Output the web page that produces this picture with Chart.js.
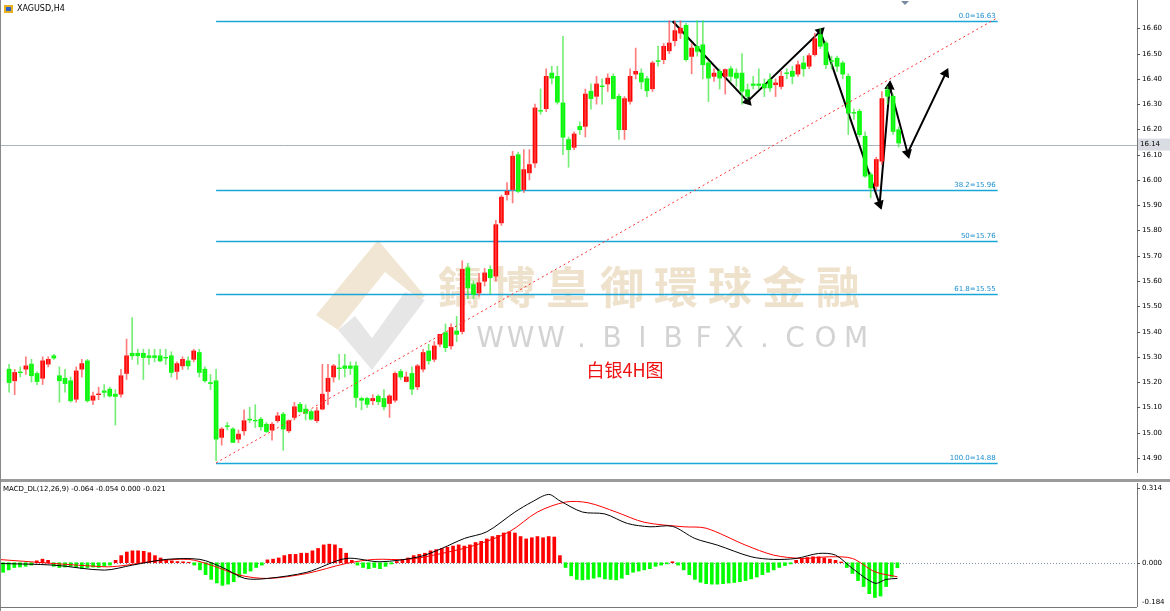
<!DOCTYPE html>
<html><head><meta charset="utf-8">
<script src="https://cdn.jsdelivr.net/npm/chart.js@4.4.1/dist/chart.umd.min.js"></script>
<style>
html,body{margin:0;padding:0;background:#fff;overflow:hidden}
#wrap{position:relative;width:1170px;height:611px;background:#fff}
#c1{position:absolute;left:0;top:0}
#c2{position:absolute;left:0;top:483px}
#sep{position:absolute;left:0;top:479px;width:1170px;height:3px;background:#9a9a9a}
#lb{position:absolute;left:0;top:0;width:1px;height:611px;background:#888}
#bt{position:absolute;left:0;top:607px;width:1137px;height:1px;background:#777}
</style></head><body>
<div id="wrap"><canvas id="c1" width="1170" height="479"></canvas><div id="sep"></div><canvas id="c2" width="1170" height="124"></canvas><div id="lb"></div><div id="bt"></div></div>
<script>
const symbolLabel = "XAGUSD,H4";
const opens  = [15.198,15.251,15.205,15.24,15.251,15.271,15.234,15.215,15.271,15.304,15.225,15.215,15.205,15.132,15.251,15.284,15.128,15.15,15.165,15.172,15.152,15.152,15.234,15.314,15.314,15.314,15.304,15.304,15.304,15.298,15.304,15.242,15.264,15.284,15.290,15.317,15.251,15.198,15.205,14.981,15.027,15.014,14.974,15.007,15.053,15.049,15.053,15.033,15.010,15.047,15.073,15.007,15.060,15.112,15.093,15.083,15.047,15.093,15.163,15.220,15.256,15.264,15.264,15.264,15.135,15.135,15.126,15.144,15.135,15.115,15.128,15.242,15.202,15.234,15.181,15.251,15.323,15.290,15.350,15.396,15.343,15.402,15.40,15.652,15.586,15.553,15.599,15.646,15.619,15.830,15.942,15.962,16.100,15.962,16.028,16.067,16.275,16.282,16.423,16.410,16.305,16.160,16.129,16.212,16.212,16.351,16.331,16.372,16.380,16.410,16.331,16.199,16.311,16.419,16.423,16.401,16.361,16.472,16.476,16.511,16.551,16.581,16.612,16.489,16.529,16.535,16.463,16.410,16.430,16.410,16.440,16.423,16.423,16.357,16.380,16.380,16.380,16.397,16.377,16.370,16.424,16.430,16.419,16.463,16.450,16.496,16.575,16.542,16.472,16.482,16.463,16.410,16.267,16.272,16.173,16.021,15.975,16.074,16.357,16.331,16.199];
const highs  = [15.26,15.27,15.25,15.26,15.30,15.29,15.24,15.30,15.30,15.31,15.26,15.25,15.22,15.26,15.29,15.29,15.16,15.18,15.19,15.18,15.17,15.25,15.37,15.455,15.33,15.33,15.33,15.33,15.33,15.33,15.32,15.28,15.30,15.30,15.33,15.33,15.26,15.23,15.25,15.02,15.04,15.02,15.01,15.09,15.10,15.11,15.06,15.04,15.04,15.08,15.08,15.05,15.12,15.12,15.11,15.09,15.10,15.27,15.27,15.27,15.31,15.31,15.28,15.28,15.14,15.14,15.15,15.15,15.17,15.15,15.24,15.25,15.24,15.26,15.27,15.33,15.35,15.36,15.39,15.43,15.43,15.46,15.68,15.67,15.60,15.63,15.65,15.66,15.84,15.94,15.99,16.113,16.11,16.12,16.12,16.30,16.36,16.44,16.45,16.45,16.568,16.17,16.19,16.23,16.36,16.38,16.41,16.40,16.42,16.42,16.34,16.33,16.44,16.522,16.44,16.41,16.47,16.53,16.54,16.63,16.63,16.63,16.62,16.54,16.63,16.63,16.47,16.44,16.44,16.44,16.45,16.44,16.50,16.38,16.41,16.44,16.40,16.42,16.40,16.43,16.44,16.45,16.47,16.49,16.50,16.58,16.60,16.55,16.49,16.49,16.47,16.42,16.28,16.28,16.19,16.03,16.09,16.35,16.37,16.34,16.21];
const lows   = [15.18,15.16,15.15,15.22,15.23,15.20,15.19,15.19,15.26,15.29,15.12,15.16,15.12,15.12,15.22,15.12,15.11,15.13,15.14,15.14,15.03,15.14,15.21,15.29,15.27,15.21,15.27,15.28,15.28,15.27,15.22,15.21,15.25,15.25,15.28,15.22,15.20,15.17,14.889,14.95,15.01,14.96,14.96,14.99,15.04,15.02,15.01,15.00,14.97,15.04,14.93,15.00,15.05,15.08,15.05,15.05,15.04,15.09,15.11,15.20,15.21,15.22,15.23,15.10,15.09,15.10,15.11,15.11,15.09,15.06,15.12,15.21,15.20,15.15,15.17,15.24,15.27,15.28,15.34,15.32,15.33,15.36,15.39,15.53,15.53,15.54,15.58,15.55,15.60,15.82,15.92,15.909,15.95,15.95,16.00,16.05,16.26,16.27,16.38,16.30,16.10,16.05,16.12,16.18,16.17,16.28,16.30,16.30,16.35,16.32,16.16,16.16,16.30,16.40,16.36,16.33,16.35,16.45,16.46,16.50,16.53,16.56,16.47,16.42,16.49,16.40,16.31,16.39,16.36,16.34,16.39,16.37,16.30,16.32,16.36,16.36,16.33,16.35,16.33,16.36,16.40,16.38,16.41,16.41,16.44,16.49,16.52,16.44,16.44,16.43,16.40,16.18,16.24,16.17,16.01,15.929,15.96,16.06,16.30,16.18,16.13];
const closes = [15.244,15.198,15.238,15.238,15.264,15.225,15.202,15.284,15.290,15.295,15.205,15.194,15.126,15.244,15.273,15.126,15.145,15.152,15.159,15.145,15.143,15.225,15.304,15.304,15.304,15.297,15.297,15.297,15.284,15.296,15.238,15.273,15.290,15.264,15.323,15.238,15.205,15.194,14.974,15.014,15.025,14.961,14.994,15.047,15.051,15.047,15.023,15.004,15.033,15.066,15.014,15.047,15.102,15.083,15.076,15.053,15.086,15.152,15.215,15.264,15.254,15.254,15.254,15.139,15.128,15.112,15.135,15.122,15.102,15.145,15.234,15.220,15.220,15.172,15.264,15.317,15.284,15.343,15.389,15.336,15.416,15.389,15.646,15.573,15.547,15.593,15.632,15.613,15.823,15.932,15.955,16.094,15.955,16.041,16.061,16.285,16.272,16.410,16.403,16.308,16.169,16.120,16.182,16.199,16.340,16.322,16.380,16.370,16.403,16.322,16.199,16.322,16.410,16.430,16.388,16.353,16.463,16.470,16.529,16.542,16.591,16.601,16.476,16.522,16.509,16.456,16.403,16.423,16.403,16.437,16.410,16.403,16.351,16.331,16.374,16.374,16.364,16.364,16.384,16.410,16.422,16.410,16.456,16.440,16.492,16.559,16.529,16.456,16.470,16.450,16.419,16.265,16.265,16.179,16.015,15.968,16.081,16.322,16.331,16.192,16.146];
const priceTicks = [16.60,16.50,16.40,16.30,16.20,16.10,16.00,15.90,15.80,15.70,15.60,15.50,15.40,15.30,15.20,15.10,15.00,14.90];
const currentPrice = 16.14;
const fibLevels = [16.63,15.96,15.76,15.55,14.88];
const fibLabels = ["0.0=16.63","38.2=15.96","50=15.76","61.8=15.55","100.0=14.88"];
const fibStart = 38, fibEnd = 177.7;
const trendIdx = [38,177.5], trendVals = [14.88,16.64];
const zigIdx = [119.6,133,146,156.6,158.4,161.6,168.4];
const zigVals = [16.628,16.311,16.588,15.904,16.371,16.106,16.422];
const hist = [-0.045,-0.04,-0.03,-0.02,-0.018,-0.015,-0.01,0.008,0.015,0.01,-0.015,-0.02,-0.018,-0.015,-0.02,-0.025,-0.02,-0.018,-0.02,-0.015,-0.01,0.01,0.03,0.045,0.05,0.05,0.048,0.042,0.03,0.02,0.012,0.008,0.005,0.004,0.002,-0.01,-0.03,-0.05,-0.07,-0.085,-0.095,-0.09,-0.08,-0.06,-0.045,-0.035,-0.02,-0.01,0.012,0.015,0.02,0.03,0.035,0.035,0.04,0.04,0.05,0.06,0.075,0.078,0.075,0.06,0.04,0.01,-0.01,-0.02,-0.025,-0.02,-0.025,-0.015,-0.005,0.005,0.01,0.02,0.03,0.035,0.04,0.05,0.055,0.06,0.065,0.07,0.075,0.07,0.075,0.085,0.09,0.1,0.11,0.115,0.125,0.13,0.125,0.11,0.1,0.105,0.11,0.105,0.11,0.108,0.03,-0.02,-0.055,-0.07,-0.072,-0.07,-0.065,-0.06,-0.068,-0.07,-0.072,-0.065,-0.05,-0.04,-0.035,-0.03,-0.025,-0.015,-0.01,-0.005,0.004,-0.01,-0.03,-0.05,-0.07,-0.082,-0.088,-0.09,-0.09,-0.088,-0.085,-0.083,-0.08,-0.075,-0.068,-0.06,-0.05,-0.04,-0.03,-0.02,-0.012,-0.005,0.01,0.018,0.022,0.025,0.025,0.02,0.015,0.01,0.003,-0.02,-0.045,-0.075,-0.1,-0.13,-0.146,-0.14,-0.1,-0.06,-0.021];
const macdIdx = [0,10,19,24,30,36,40,44,48,55,62,68,75,79,83,87,92,95,98,100,104,108,112,116,120,124,128,134,138,142,146,149,152,156,158,160];
const macdVals = [-0.003,-0.01,-0.031,-0.01,0.014,0.014,-0.02,-0.066,-0.066,-0.04,0.018,0.004,0.025,0.06,0.102,0.13,0.213,0.255,0.287,0.26,0.213,0.205,0.165,0.151,0.153,0.102,0.074,0.025,0.014,0.018,0.039,0.032,-0.024,-0.086,-0.07,-0.066];
const sigIdx = [0,19,22,28,34,38,43,48,55,62,67,73,79,85,91,96,101,105,110,115,122,126,133,138,143,148,152,156,160];
const sigVals = [0.014,-0.017,-0.013,0.007,0.014,-0.01,-0.052,-0.066,-0.045,-0.003,0.014,0.014,0.039,0.074,0.13,0.213,0.255,0.252,0.213,0.17,0.151,0.145,0.074,0.032,0.018,0.025,0.018,-0.038,-0.059];
const macdTicks = [0.314,0.000,-0.184];
const macdLabel = "MACD_DL(12,26,9) -0.064 -0.054 0.000 -0.021";

const RED='#ff0000', GREEN='#00ff00';
const XMIN=0.45, XMAX=202.6;
const up = opens.map((o,i)=>closes[i]>=o);
const colors = up.map(u=>u?RED:GREEN);
const wickColors = up.map(u=>u?'rgba(255,80,80,0.75)':'rgba(60,230,60,0.7)');

function fixW(s){ s.width=33; }
const xAxis = {type:'linear',min:XMIN,max:XMAX,display:false,offset:false};

function drawTicks(ch,vals,dec){
  const c=ch.ctx,a=ch.chartArea,ys=ch.scales.y;
  c.save();c.strokeStyle='#555';c.fillStyle='#000';c.font='7px "DejaVu Sans"';c.textAlign='left';c.textBaseline='middle';
  vals.forEach(v=>{let y=Math.round(ys.getPixelForValue(v))+0.5;
    c.beginPath();c.moveTo(a.right,y);c.lineTo(a.right+3,y);c.stroke();
    let ty=Math.min(Math.max(y,5),a.bottom-5);
    c.fillText(v.toFixed(dec),a.right+5,ty);});
  c.restore();
}

const mainPlugin = {
  id:'main',
  beforeDatasetsDraw(ch){
    const c=ch.ctx; c.save();
    c.fillStyle='rgba(236,222,196,0.75)';
    c.beginPath();c.moveTo(378,240);c.lineTo(316,315);c.lineTo(338,330);c.lineTo(385,272);c.lineTo(420,300);c.lineTo(425,296);c.closePath();c.fill();
    c.fillStyle='rgba(220,220,220,0.7)';
    c.beginPath();c.moveTo(338,330);c.lineTo(372,370);c.lineTo(425,300);c.lineTo(405,292);c.lineTo(372,338);c.lineTo(355,316);c.closePath();c.fill();
    c.font='bold 44px "Noto Sans CJK TC"';c.fillStyle='rgba(232,214,184,0.7)';c.textBaseline='middle';c.textAlign='center';
    const t='鑄博皇御環球金融';
    for(let k=0;k<t.length;k++) c.fillText(t[k],460+k*54,287);
    c.font='28px "DejaVu Sans"';c.fillStyle='rgba(200,200,200,0.8)';
    const w='WWW.BIBFX.COM';
    for(let k=0;k<w.length;k++) c.fillText(w[k],490+k*30.5,340);
    c.font='18px "Noto Sans CJK SC"';c.fillStyle='#ee1111';c.fillText('白银4H图',625,370);
    const xs=ch.scales.x, ys=ch.scales.y;
    c.strokeStyle='#1aa6d6';c.lineWidth=1.3;c.font='7px "DejaVu Sans"';c.fillStyle='#1a8fd0';c.textAlign='right';c.textBaseline='bottom';
    fibLevels.forEach((v,k)=>{const y=Math.round(ys.getPixelForValue(v))+0.5;
      c.beginPath();c.moveTo(xs.getPixelForValue(fibStart),y);c.lineTo(xs.getPixelForValue(fibEnd),y);c.stroke();
      c.fillText(fibLabels[k],xs.getPixelForValue(fibEnd)-2,y-2);});
    const py=Math.round(ys.getPixelForValue(currentPrice))+0.5;
    c.strokeStyle='#aab4c0';c.lineWidth=1;c.beginPath();c.moveTo(0,py);c.lineTo(ch.chartArea.right,py);c.stroke();
    c.restore();
  },
  afterDraw(ch){
    const c=ch.ctx,a=ch.chartArea,ys=ch.scales.y; c.save();
    c.strokeStyle='#777';c.lineWidth=1;c.beginPath();c.moveTo(a.right+0.5,0);c.lineTo(a.right+0.5,a.bottom);c.stroke();
    c.restore();
    drawTicks(ch,priceTicks,2);
    c.save();
    const py=ys.getPixelForValue(currentPrice);
    c.fillStyle='#d9dde3';c.fillRect(a.right+1,py-6,32,12);
    c.fillStyle='#000';c.font='7px "DejaVu Sans"';c.textAlign='left';c.textBaseline='middle';c.fillText(currentPrice.toFixed(2),a.right+3,py);
    c.font='8px "DejaVu Sans"';c.fillText(symbolLabel,17,9);
    c.fillStyle='#e8b020';c.fillRect(4,5,9,8);c.fillStyle='#3060c0';c.fillRect(6,7,5,4);
    c.fillStyle='#7a8aa0';c.beginPath();c.moveTo(901,1);c.lineTo(909,1);c.lineTo(905,5);c.closePath();c.fill();
    c.restore();
  }
};

const yHidden = (min,max)=>({position:'right',min,max,afterFit:fixW,ticks:{display:false},grid:{display:false},border:{display:false}});

new Chart(document.getElementById('c1'),{
  type:'bar',
  data:{datasets:[
    {type:'line',data:trendIdx.map((x,i)=>({x,y:trendVals[i]})),borderColor:'#ff3333',borderWidth:1,borderDash:[2,3],pointRadius:0},
    {data:closes.map((c,i)=>({x:i,y:[lows[i],highs[i]]})),backgroundColor:wickColors,barThickness:1,grouped:false},
    {data:closes.map((c,i)=>({x:i,y:[opens[i],Math.abs(c-opens[i])<0.003?opens[i]+(c>=opens[i]?0.003:-0.003):c]})),backgroundColor:colors,barThickness:4,grouped:false},
    {type:'line',data:zigIdx.map((x,i)=>({x,y:zigVals[i]})),borderColor:'#000',borderWidth:2,pointStyle:'triangle',pointRadius:(ctx)=>ctx.dataIndex===0?0:4,pointBackgroundColor:'#000',pointBorderColor:'#000',pointRotation:(ctx)=>{const i=ctx.dataIndex;if(i===0)return 0;const s=ctx.chart.getDatasetMeta(3).data;const p=s[i],q=s[i-1];if(!p||!q)return 0;return Math.atan2(p.y-q.y,p.x-q.x)*180/Math.PI+90;},tension:0}
  ]},
  options:{responsive:false,animation:false,devicePixelRatio:1,layout:{padding:0},
    plugins:{legend:{display:false},tooltip:{enabled:false}},
    scales:{x:xAxis,y:yHidden(14.840,16.6885)}},
  plugins:[mainPlugin]
});

const macdPlugin={id:'macd',
  beforeDatasetsDraw(ch){const c=ch.ctx,ys=ch.scales.y,a=ch.chartArea;const y=Math.round(ys.getPixelForValue(0))+0.5;
    c.save();c.strokeStyle='#7f8fa8';c.setLineDash([1,2]);c.beginPath();c.moveTo(0,y);c.lineTo(a.right,y);c.stroke();c.restore();},
  afterDraw(ch){const c=ch.ctx,a=ch.chartArea;c.save();c.strokeStyle='#777';c.beginPath();c.moveTo(a.right+0.5,0);c.lineTo(a.right+0.5,a.bottom);c.stroke();
    c.font='7px "DejaVu Sans"';c.fillStyle='#000';c.textBaseline='top';c.fillText(macdLabel,3,3);c.restore();
    drawTicks(ch,macdTicks,3);}
};
new Chart(document.getElementById('c2'),{
  type:'bar',
  data:{datasets:[
    {type:'line',data:macdIdx.map((x,i)=>({x,y:macdVals[i]})),borderColor:'#000',borderWidth:1,pointRadius:0,tension:0.3},
    {type:'line',data:sigIdx.map((x,i)=>({x,y:sigVals[i]})),borderColor:'#ff0000',borderWidth:1,pointRadius:0,tension:0.3},
    {data:hist.map((v,i)=>({x:i,y:v})),backgroundColor:hist.map(v=>v>=0?RED:GREEN),barThickness:3}
  ]},
  options:{responsive:false,animation:false,devicePixelRatio:1,layout:{padding:0},
    plugins:{legend:{display:false},tooltip:{enabled:false}},
    scales:{x:xAxis,y:yHidden(-0.186,0.335)}},
  plugins:[macdPlugin]
});
</script></body></html>
